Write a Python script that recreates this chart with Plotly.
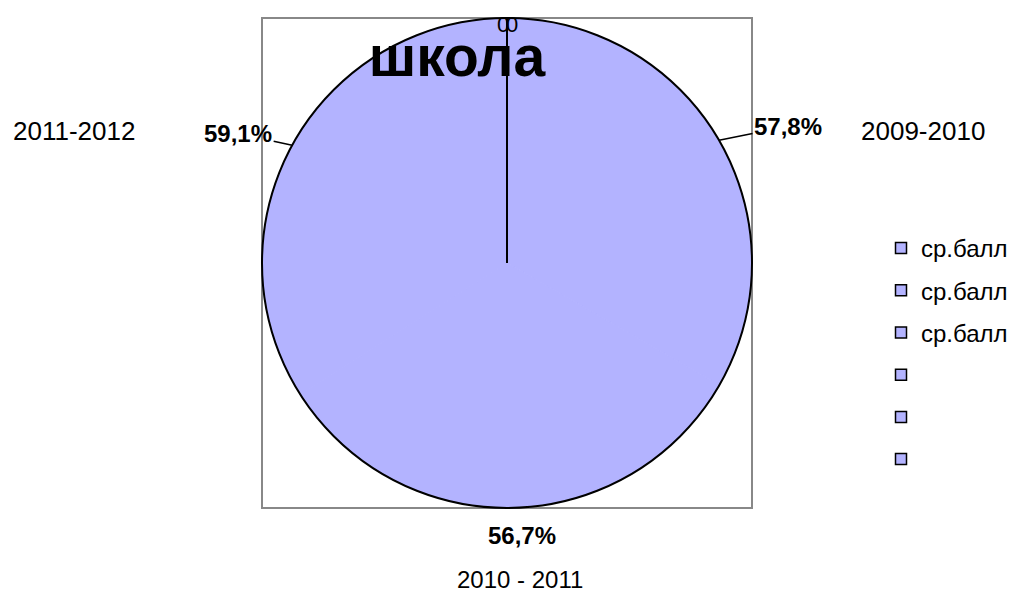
import math
import plotly.graph_objects as go

# ---- data ----
years = ["2009-2010", "2010 - 2011", "2011-2012"]
scores = [57.8, 56.7, 59.1]
zero_values = [0, 0]
legend_labels = ["ср.балл", "ср.балл", "ср.балл", " ", " ", " "]
title_text = "школа"

W, H = 1014, 594
CX, CY, R = 507, 263, 245          # pie centre / radius in pixels
FILL = "#b3b3ff"
FONT = "Liberation Sans, Arial, sans-serif"


def px(x):
    return x / W


def py(y):
    return 1 - y / H


fig = go.Figure()

dom = dict(x=[px(CX - R), px(CX + R)], y=[py(CY + R), py(CY - R)])

fig.add_trace(go.Pie(
    values=scores, labels=years, direction="clockwise", sort=False, rotation=0,
    marker=dict(colors=[FILL] * len(scores), line=dict(color=FILL, width=1)),
    textinfo="none", showlegend=False, domain=dom,
    hovertemplate="%{label}: %{value}%<extra></extra>",
))
# outline
fig.add_trace(go.Pie(
    values=[sum(scores)], labels=["all"], sort=False,
    marker=dict(colors=["rgba(0,0,0,0)"], line=dict(color="black", width=2)),
    textinfo="none", showlegend=False, hoverinfo="skip", domain=dom,
))

# legend entries (dummy traces)
for i, name in enumerate(legend_labels):
    fig.add_trace(go.Scatter(
        x=[None], y=[None], mode="markers", name=name, legendgroup=f"g{i}",
        marker=dict(symbol="square", size=11, color=FILL,
                    line=dict(color="black", width=1.5)),
        showlegend=True,
    ))

# value labels placed at slice mid angles
total = sum(scores)
offsets = [(69, -14, True), (15, 28, False), (-54, -12, True)]
annotations = []
cum = 0
for v, (ox, oy, arrow) in zip(scores, offsets):
    mid = (cum + v / 2) / total * 2 * math.pi
    cum += v
    hx = CX + R * math.sin(mid)
    hy = CY - R * math.cos(mid)
    txt = f"<b>{v:.1f}%</b>".replace(".", ",")
    if arrow:
        annotations.append(dict(x=px(hx), y=py(hy), xref="paper", yref="paper",
                                text=txt, showarrow=True, arrowhead=0,
                                arrowwidth=1.5, arrowcolor="black",
                                ax=ox, ay=oy, font=dict(size=24, color="black", family=FONT)))
    else:
        annotations.append(dict(x=px(hx + ox - 6), y=py(hy + oy), xref="paper", yref="paper",
                                text=txt, showarrow=False, xanchor="center", yanchor="middle",
                                font=dict(size=24, color="black", family=FONT)))

# category labels
cat_pos = [(923, 131, 26), (520, 579, 24), (74, 131, 26)]
for name, (x, y, s) in zip(years, cat_pos):
    annotations.append(dict(x=px(x), y=py(y), xref="paper", yref="paper",
                            text=name, showarrow=False, xanchor="center", yanchor="middle",
                            font=dict(size=s, color="black", family=FONT)))

# zero labels at the top
for k, z in enumerate(zero_values):
    annotations.append(dict(x=px(503 + 9 * k), y=py(24), xref="paper", yref="paper",
                            text=f"{z:g}", showarrow=False, xanchor="center", yanchor="middle",
                            font=dict(size=22, color="black", family=FONT)))

fig.update_layout(
    width=W, height=H,
    margin=dict(l=0, r=0, t=0, b=0),
    paper_bgcolor="white", plot_bgcolor="white",
    font=dict(family=FONT, color="black"),
    title=dict(text=f"<b>{title_text}</b>", x=px(457), xanchor="center",
               y=py(56), yanchor="middle",
               font=dict(size=57, family=FONT, color="black")),
    xaxis=dict(visible=False), yaxis=dict(visible=False),
    legend=dict(x=px(881), y=py(226), xanchor="left", yanchor="top",
                font=dict(size=24, family=FONT, color="black"),
                tracegroupgap=8, bgcolor="rgba(0,0,0,0)"),
    annotations=annotations,
    shapes=[
        dict(type="rect", xref="paper", yref="paper",
             x0=px(CX - R), x1=px(CX + R), y0=py(CY + R), y1=py(CY - R),
             line=dict(color="#888888", width=2), layer="below"),
        dict(type="line", xref="paper", yref="paper",
             x0=px(CX), y0=py(CY), x1=px(CX), y1=py(CY - R),
             line=dict(color="black", width=2)),
    ],
)

fig.write_html("out.html", config={"displayModeBar": False},
               post_script="document.body.style.margin='0';")
